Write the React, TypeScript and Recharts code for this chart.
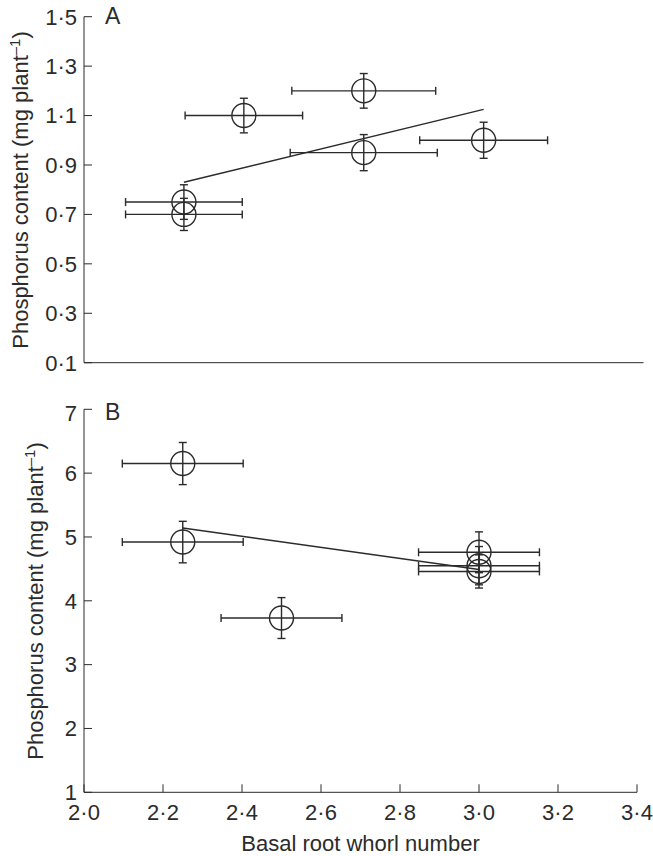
import { ScatterChart, Scatter, XAxis, YAxis, ErrorBar, Label } from "recharts";

// shared x axis (basal root whorl number)
const xTicks = [2.0, 2.2, 2.4, 2.6, 2.8, 3.0, 3.2, 3.4];

// panel A
const yTicksA = [0.1, 0.3, 0.5, 0.7, 0.9, 1.1, 1.3, 1.5];
const whorlA = [2.25, 2.25, 2.4, 2.7, 2.7, 3.0];
const phosA = [0.75, 0.7, 1.1, 1.2, 0.95, 1.0];
const whorlErrA = [0.146, 0.146, 0.147, 0.18, 0.184, 0.16];
const phosErrA = [0.07, 0.065, 0.07, 0.07, 0.073, 0.073];
const fitXA = [2.25, 3.0];
const fitYA = [0.83, 1.125];

// panel B
const yTicksB = [1, 2, 3, 4, 5, 6, 7];
const whorlB = [2.25, 2.25, 2.5, 3.0, 3.0, 3.0];
const phosB = [6.15, 4.92, 3.73, 4.76, 4.55, 4.46];
const whorlErrB = [0.153, 0.153, 0.153, 0.153, 0.153, 0.153];
const phosErrB = [0.33, 0.325, 0.32, 0.32, 0.3, 0.26];
const fitXB = [2.25, 3.0];
const fitYB = [5.14, 4.49];

const INK = "#2b2b2b";
const FONT = "'Liberation Sans', Arial, sans-serif";
const FS = 22;

const pts = (xs: number[], ys: number[], ex: number[], ey: number[]) =>
  xs.map((x, i) => ({ x, y: ys[i], ex: ex[i], ey: ey[i] }));
const fit = (xs: number[], ys: number[]) => xs.map((x, i) => ({ x, y: ys[i] }));

const dotted = (v: number) => v.toFixed(1).replace(".", "·");

const OpenCircle = (props: any) => (
  <circle cx={props.cx} cy={props.cy} r={12} fill="none" stroke={INK} strokeWidth={1.4} />
);
const NoShape = () => <g />;

function YTitle({ x, y, letter, letterY }: { x: number; y: number; letter: string; letterY: number }) {
  return (
    <g>
      <text
        x={x}
        y={y}
        transform={`rotate(-90 ${x} ${y})`}
        textAnchor="middle"
        fontSize={FS}
        fill={INK}
        fontFamily={FONT}
      >
        Phosphorus content (mg plant
        <tspan fontSize={15} dy={-8}>
          –1
        </tspan>
        <tspan dy={8}>)</tspan>
      </text>
      <text x={105} y={letterY} fontSize={23} fill={INK} fontFamily={FONT}>
        {letter}
      </text>
    </g>
  );
}

const tickStyle = { fill: INK, fontSize: FS, fontFamily: FONT };

export default function App() {
  const dataA = pts(whorlA, phosA, whorlErrA, phosErrA);
  const dataB = pts(whorlB, phosB, whorlErrB, phosErrB);

  return (
    <div style={{ width: 653, height: 856, background: "#fff" }}>
      <style>{"body{margin:0}"}</style>
      <ScatterChart width={653} height={400} margin={{ top: 16.7, right: 9.5, bottom: 7.3, left: 0 }}>
        <XAxis
          type="number"
          dataKey="x"
          domain={[2.0, 3.4]}
          ticks={xTicks}
          tick={false}
          height={30}
          stroke={INK}
          tickSize={-8}
          allowDataOverflow
        />
        <YAxis
          type="number"
          dataKey="y"
          domain={[0.1, 1.5]}
          ticks={yTicksA}
          width={84}
          stroke={INK}
          tick={tickStyle}
          tickSize={-8}
          tickMargin={15}
          tickFormatter={dotted}
          allowDataOverflow
        >
          <Label content={() => <YTitle x={28} y={190} letter="A" letterY={24} />} />
        </YAxis>
        <Scatter data={dataA} shape={OpenCircle} isAnimationActive={false}>
          <ErrorBar dataKey="ex" direction="x" width={4} stroke={INK} strokeWidth={1.4} />
          <ErrorBar dataKey="ey" direction="y" width={4} stroke={INK} strokeWidth={1.4} />
        </Scatter>
        <Scatter
          data={fit(fitXA, fitYA)}
          line={{ stroke: INK, strokeWidth: 1.4 }}
          shape={NoShape}
          isAnimationActive={false}
        />
      </ScatterChart>

      <ScatterChart width={653} height={456} margin={{ top: 9.3, right: 16, bottom: 0, left: 0 }}>
        <XAxis
          type="number"
          dataKey="x"
          domain={[2.0, 3.4]}
          ticks={xTicks}
          tick={tickStyle}
          tickFormatter={dotted}
          height={63.7}
          stroke={INK}
          tickSize={-8}
          tickMargin={20}
          allowDataOverflow
        >
          <Label
            content={() => (
              <text x={360.5} y={451} textAnchor="middle" fontSize={FS} fill={INK} fontFamily={FONT}>
                Basal root whorl number
              </text>
            )}
          />
        </XAxis>
        <YAxis
          type="number"
          dataKey="y"
          domain={[1, 7]}
          ticks={yTicksB}
          width={84}
          stroke={INK}
          tick={tickStyle}
          tickSize={-8}
          tickMargin={15}
          allowDataOverflow
        >
          <Label content={() => <YTitle x={43} y={201} letter="B" letterY={20} />} />
        </YAxis>
        <Scatter data={dataB} shape={OpenCircle} isAnimationActive={false}>
          <ErrorBar dataKey="ex" direction="x" width={4} stroke={INK} strokeWidth={1.4} />
          <ErrorBar dataKey="ey" direction="y" width={4} stroke={INK} strokeWidth={1.4} />
        </Scatter>
        <Scatter
          data={fit(fitXB, fitYB)}
          line={{ stroke: INK, strokeWidth: 1.4 }}
          shape={NoShape}
          isAnimationActive={false}
        />
      </ScatterChart>
    </div>
  );
}
